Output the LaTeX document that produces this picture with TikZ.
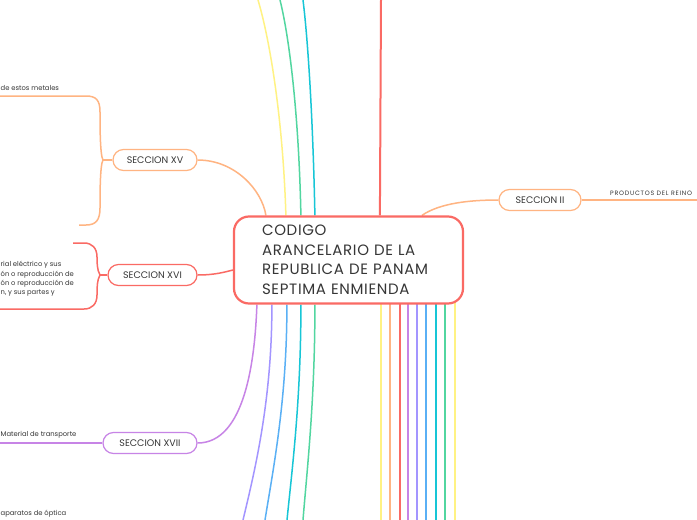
\documentclass[tikz,border=0pt]{standalone}
\usepackage{fontspec}
\setmainfont{Poppins}
\newfontfamily\mainlabel[LetterSpace=4.5]{Poppins}
\newfontfamily\widelabel[LetterSpace=12]{Poppins}
\usetikzlibrary{calc,backgrounds}
\definecolor{cred}{HTML}{FA6A64}
\definecolor{corange}{HTML}{FFB482}
\definecolor{cpurple}{HTML}{C784E6}
\definecolor{cviolet}{HTML}{A395FF}
\definecolor{cblue}{HTML}{5AB0F5}
\definecolor{ccyan}{HTML}{17C6D6}
\definecolor{cgreen}{HTML}{52D6A0}
\definecolor{cyellow}{HTML}{FFF283}
\definecolor{ctext}{HTML}{363636}
\begin{document}
\begin{tikzpicture}[x=1pt,y=-1pt,
  mainbox/.style={draw=cred, line width=2.2pt, fill=white, rounded corners=15pt,
    minimum height=87pt, inner xsep=28pt, text width=173pt, align=left,
    font=\mainlabel\fontsize{15}{19.5}\selectfont, text=ctext},
  secbox/.style={draw=#1, line width=1.2pt, fill=white, rounded corners=10.5pt,
    minimum height=21pt, inner sep=0pt, font=\fontsize{9.5}{11}\selectfont, text=ctext},
  smalltext/.style={inner sep=0pt, font=\fontsize{6.8}{9.3}\selectfont, text=ctext},
  conn/.style={line width=1.5pt, #1},
]
\useasboundingbox (0,0) rectangle (697,520);
\clip (0,0) rectangle (697,520);

% central node
\node[mainbox, minimum width=229pt] (c) at (348.5,260)
  {CODIGO\\ARANCELARIO DE LA\\REPUBLICA DE PANAM\\SEPTIMA ENMIENDA};

% section nodes
\node[secbox=corange, minimum width=84pt] (s15) at (155,160) {SECCION XV};
\node[secbox=cred, minimum width=89pt] (s16) at (152.5,275) {SECCION XVI};
\node[secbox=cpurple, minimum width=94pt] (s17) at (150,443) {SECCION XVII};
\node[secbox=corange, minimum width=82pt] (s2) at (540,200) {SECCION II};

% texts
\node[smalltext, anchor=west] (t15) at (0.5,88) {de estos metales};
\node[smalltext, anchor=west, align=left] (t16) at (0.5,279)
  {rial eléctrico y sus\\ón o reproducción de\\ón o reproducción de\\n, y sus partes y};
\node[smalltext, anchor=west] (t17) at (0.5,435) {Material de transporte};
\node[smalltext, anchor=west] (t18) at (0.5,514) {aparatos de óptica};
\node[smalltext, anchor=west, font=\widelabel\fontsize{6.3}{8}\selectfont] (t2) at (610,193) {PRODUCTOS DEL REINO};

% free ends
\coordinate (e1) at (258,0);
\coordinate (e2) at (280,0);
\coordinate (e3) at (303,0);
\coordinate (e4) at (381,0);
\coordinate (b15) at (103,160);
\coordinate (b15t) at (0,96);
\coordinate (b15b) at (79,225);
\coordinate (b16) at (100,275);
\coordinate (b16t) at (73,243);
\coordinate (b16b) at (0,309);
\coordinate (b17) at (0,443);
\coordinate (b2) at (697,200);

\begin{scope}[on background layer]
\fill[white] (0,0) rectangle (697,520);
% top connectors
\draw[conn=cyellow] ($(c.north west)+(53,0)$) .. controls (283,120) and (270,40) .. (e1);
\draw[conn=cgreen] ($(c.north west)+(68,0)$) .. controls (299,120) and (290,40) .. (e2);
\draw[conn=ccyan] ($(c.north west)+(82,0)$) .. controls (313,120) and (308,40) .. (e3);
\draw[conn=cred, line width=2pt] ($(c.north west)+(147,0)$) -- (e4);
% to sections
\draw[conn=corange] ($(c.north west)+(33,0)$) .. controls (262,190) and (235,160) .. (s15.east);
\draw[conn=cred] ($(c.west)+(0,10)$) .. controls (225,272) and (215,275) .. (s16.east);
\draw[conn=cpurple] ($(c.south west)+(24,0)$) .. controls (255,360) and (245,443) .. (s17.east);
\draw[conn=corange] ($(c.north west)+(189,0)$) .. controls (440,203) and (470,200) .. (s2.west);
% bottom-left connectors
\draw[conn=cviolet] ($(c.south west)+(39,0)$) .. controls (272,400) and (255,470) .. (243,520);
\draw[conn=cblue] ($(c.south west)+(54,0)$) .. controls (287,400) and (273,470) .. (265,520);
\draw[conn=ccyan] ($(c.south west)+(68,0)$) .. controls (301,400) and (292,470) .. (287,520);
\draw[conn=cgreen] ($(c.south west)+(82,0)$) .. controls (315,400) and (307,470) .. (303,520);
% bottom-right connectors
\foreach \dx/\col in {148/cyellow,157/corange,167/cred,175/cpurple,184/cviolet,193/cblue,203/ccyan,212/cgreen,222/cyellow}{
  \draw[conn=\col] ($(c.south west)+(\dx,-5)$) -- ++(0,225);
}
% brackets
\draw[conn=corange] (s15.west) -- (b15);
\draw[conn=corange] (b15) .. controls (100,155) and (100,125) .. (100,112)
  .. controls (100,100) and (96,96) .. (86,96) -- (b15t);
\draw[conn=corange] (b15) .. controls (100,165) and (100,195) .. (100,208)
  .. controls (100,220) and (96,225) .. (86,225) -- (b15b);
\draw[conn=cred] (s16.west) -- (b16);
\draw[conn=cred] (b16) .. controls (97,270) and (97,262) .. (97,257)
  .. controls (97,248) and (92,243) .. (84,243) -- (b16t);
\draw[conn=cred] (b16) .. controls (97,280) and (97,288) .. (97,295)
  .. controls (97,304) and (92,309) .. (84,309) -- (b16b);
\draw[conn=cpurple] (s17.west) -- (b17);
\draw[conn=corange] (s2.east) -- (b2);
\end{scope}
\end{tikzpicture}
\end{document}
